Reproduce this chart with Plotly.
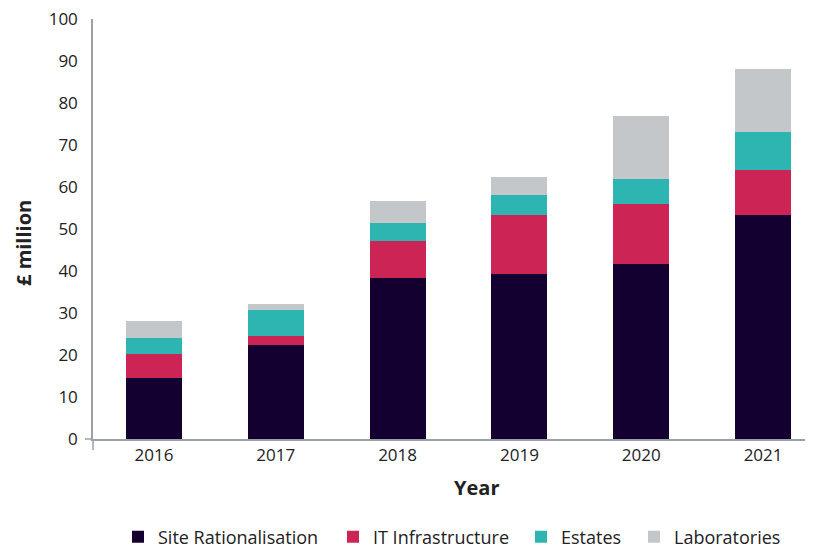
import plotly.graph_objects as go

years = ["2016", "2017", "2018", "2019", "2020", "2021"]
site = [14.5, 22.4, 38.4, 39.3, 41.7, 53.4]
it_infra = [5.8, 2.2, 8.8, 14.1, 14.3, 10.7]
estates = [3.8, 6.2, 4.3, 4.8, 6.0, 9.1]
labs = [4.0, 1.4, 5.2, 4.3, 14.8, 14.8]

series = [
    ("Site Rationalisation", site, "#140030"),
    ("IT Infrastructure", it_infra, "#cc2455"),
    ("Estates", estates, "#2db5b1"),
    ("Laboratories", labs, "#c4c7ca"),
]

FONT = "Open Sans"
TXT = "#222222"
# page is offset by the default 8px body margin; work in figure pixels
W, H = 813, 580
L, T = 85, 11
plot_right, plot_bottom = 802, 431
R, B = W - plot_right, H - plot_bottom
pw, ph = plot_right - L, plot_bottom - T

def px_x(p):
    return (p - L) / pw

def px_y(p):
    return (plot_bottom - p) / ph

legend_square_left = [124, 339, 527, 640]
SYM_OFF = 14

fig = go.Figure()
legend_names = ["legend", "legend2", "legend3", "legend4"]
for (name, vals, col), lg in zip(series, legend_names):
    fig.add_trace(go.Bar(x=years, y=vals, name=name, marker=dict(color=col, line=dict(width=0)),
                         width=0.46, legend=lg))

axis_col = "#9aa0a6"
layout_legends = {}
for lg, sq in zip(legend_names, legend_square_left):
    layout_legends[lg] = dict(orientation="h", x=px_x(sq - SYM_OFF), xanchor="left", y=px_y(529),
                              yanchor="middle", font=dict(size=18, color=TXT), itemwidth=30,
                              bgcolor="rgba(0,0,0,0)")

fig.update_layout(
    barmode="stack",
    width=W, height=H,
    margin=dict(l=L, r=R, t=T, b=B),
    plot_bgcolor="white", paper_bgcolor="white",
    font=dict(family=FONT, size=17, color=TXT),
    xaxis=dict(type="category", range=[-0.5, 5.385], showline=True, linecolor=axis_col, linewidth=1.5,
               ticks="", showgrid=False, automargin=False, ticklabelstandoff=0,
               tickfont=dict(size=17)),
    yaxis=dict(range=[0, 100], tickvals=list(range(0, 101, 10)), showline=True, linecolor=axis_col,
               linewidth=1.5, showgrid=False, ticks="", ticklabelstandoff=10, automargin=False,
               ticklabeloverflow="allow", tickfont=dict(size=17), zeroline=False),
    showlegend=True,
    **layout_legends,
)
# axis titles
fig.add_annotation(text="<b>Year</b>", xref="paper", yref="paper", x=px_x(468),
                   y=px_y(479.5), showarrow=False, font=dict(size=20, color=TXT),
                   xanchor="center", yanchor="middle")
fig.add_annotation(text="<b>£ million</b>", xref="paper", yref="paper", x=px_x(15),
                   y=px_y(235), showarrow=False, font=dict(size=20, color=TXT),
                   textangle=-90, xanchor="center", yanchor="middle")
# axis overhangs
fig.add_shape(type="line", xref="paper", yref="paper", x0=0, x1=0, y0=0, y1=-11 / ph,
              line=dict(color=axis_col, width=1.5))
fig.add_shape(type="line", xref="paper", yref="paper", x0=0, x1=-8 / pw, y0=0, y1=0,
              line=dict(color=axis_col, width=1.5))

fig.write_html("out.html")
